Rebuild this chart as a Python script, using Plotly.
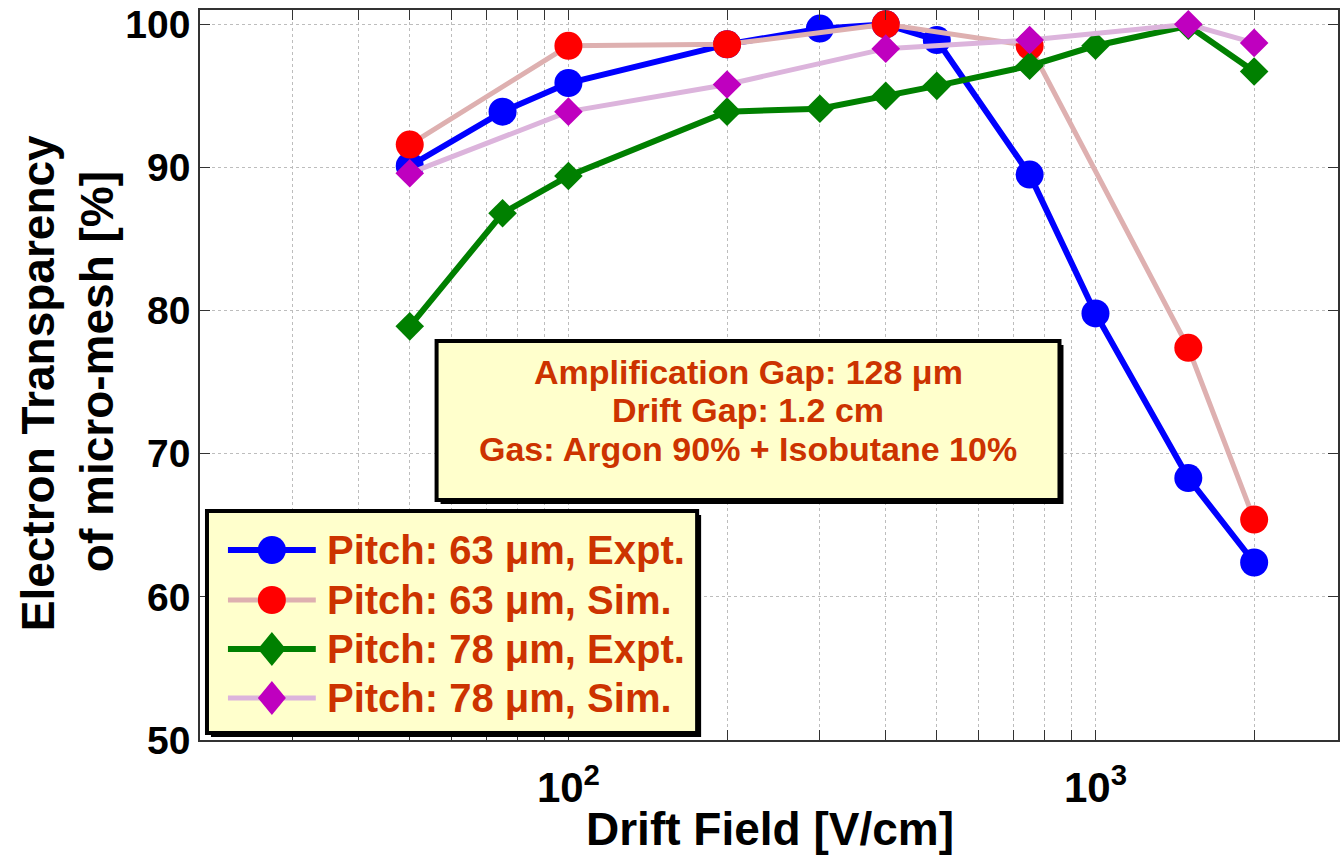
import numpy as np
import plotly.graph_objects as go

# ---- data: electron transparency of the micro-mesh vs drift field ----
field_63_expt = [50, 75, 100, 200, 300, 400, 500, 750, 1000, 1500, 2000]
transp_63_expt = [90.1, 93.9, 95.9, 98.6, 99.7, 100.0, 98.9, 89.5, 79.8, 68.3, 62.4]

field_63_sim = [50, 100, 200, 400, 750, 1500, 2000]
transp_63_sim = [91.6, 98.5, 98.6, 100.0, 98.5, 77.4, 65.4]

field_78_expt = [50, 75, 100, 200, 300, 400, 500, 750, 1000, 1500, 2000]
transp_78_expt = [78.9, 86.8, 89.4, 93.9, 94.1, 95.0, 95.7, 97.1, 98.5, 99.9, 96.7]

field_78_sim = [50, 100, 200, 400, 750, 1500, 2000]
transp_78_sim = [89.6, 93.9, 95.8, 98.3, 98.9, 100.0, 98.7]

series_names = [
    "Pitch: 63 μm, Expt.",
    "Pitch: 63 μm, Sim.",
    "Pitch: 78 μm, Expt.",
    "Pitch: 78 μm, Sim.",
]
info_lines = [
    "Amplification Gap: 128 μm",
    "Drift Gap: 1.2 cm",
    "Gas: Argon 90% + Isobutane 10%",
]
y_ticks = [50, 60, 70, 80, 90, 100]
x_ticks = [20, 30, 40, 50, 60, 70, 80, 90, 100, 200, 300, 400, 500, 600, 700, 800, 900, 1000, 2000]
x_tick_text = {100: "10<sup>2</sup>", 1000: "10<sup>3</sup>"}

# ---- styling ----
W, H = 1340, 864
L, R, T, B = 200, 0, 10, 124
PW, PH = W - L - R, H - T - B
SANS = "Liberation Sans, Arial, sans-serif"
TEXT_RED = "#CC3300"
BOX_FILL = "#FFFFCC"

styles = [
    dict(line=dict(color="rgb(0,0,255)", width=6), marker=dict(symbol="circle", size=28, color="rgb(0,0,255)")),
    dict(line=dict(color="rgb(222,176,176)", width=5), marker=dict(symbol="circle", size=28, color="rgb(255,0,0)")),
    dict(line=dict(color="rgb(0,128,0)", width=6), marker=dict(symbol="diamond", size=22, color="rgb(0,128,0)")),
    dict(line=dict(color="rgb(220,180,220)", width=5), marker=dict(symbol="diamond", size=22, color="rgb(191,0,191)")),
]
series = [
    (field_63_expt, transp_63_expt),
    (field_63_sim, transp_63_sim),
    (field_78_expt, transp_78_expt),
    (field_78_sim, transp_78_sim),
]

fig = go.Figure()
for (xs, ys), name, st in zip(series, series_names, styles):
    fig.add_trace(go.Scatter(
        x=xs, y=ys, mode="lines+markers", name=name,
        line=st["line"], marker=dict(**st["marker"], line=dict(width=0)),
        showlegend=False,
    ))


def px(x):
    return (x - L) / PW


def py(y):
    return (T + PH - y) / PH


shapes = []
annotations = []


def framed_box(x0, y0, x1, y1):
    # drop shadow then the filled frame
    shapes.append(dict(type="rect", xref="paper", yref="paper", layer="above",
                       x0=px(x0 + 4), x1=px(x1 + 4), y0=py(y1 + 4), y1=py(y0 + 4),
                       fillcolor="black", line=dict(width=0)))
    shapes.append(dict(type="rect", xref="paper", yref="paper", layer="above",
                       x0=px(x0), x1=px(x1), y0=py(y1), y1=py(y0),
                       fillcolor=BOX_FILL, line=dict(color="black", width=4)))


# info box
framed_box(437, 341, 1061, 500)
for line_txt, yy in zip(info_lines, [372, 410, 449]):
    annotations.append(dict(xref="paper", yref="paper", x=px(749), y=py(yy),
                            text=line_txt, showarrow=False, xanchor="center", yanchor="middle",
                            font=dict(family=SANS, size=34, color=TEXT_RED, weight="bold")))

# legend box with keys
framed_box(207, 511, 698, 733)
rows = [550, 600, 649, 698]
for name, st, yy in zip(series_names, styles, rows):
    shapes.append(dict(type="line", xref="paper", yref="paper", layer="above",
                       x0=px(228), x1=px(316), y0=py(yy), y1=py(yy),
                       line=dict(color=st["line"]["color"], width=st["line"]["width"])))
    mk = st["marker"]
    if mk["symbol"] == "circle":
        shapes.append(dict(type="circle", xref="paper", yref="paper", layer="above",
                           xsizemode="pixel", ysizemode="pixel",
                           xanchor=px(272), yanchor=py(yy), x0=-14, x1=14, y0=-14, y1=14,
                           fillcolor=mk["color"], line=dict(width=0)))
    else:
        shapes.append(dict(type="path", xref="paper", yref="paper", layer="above",
                           xsizemode="pixel", ysizemode="pixel",
                           xanchor=px(272), yanchor=py(yy),
                           path="M 0 17 L 14 0 L 0 -17 L -14 0 Z",
                           fillcolor=mk["color"], line=dict(width=0)))
    annotations.append(dict(xref="paper", yref="paper", x=px(325), y=py(yy),
                            text=name, showarrow=False, xanchor="left", yanchor="middle",
                            font=dict(family=SANS, size=40, color=TEXT_RED, weight="bold")))

# axis titles
TITLE_FONT = dict(family=SANS, size=46, color="black", weight="bold")
annotations.append(dict(xref="paper", yref="paper", x=px(38), y=py(383), text="Electron Transparency",
                        textangle=-90, showarrow=False, xanchor="center", yanchor="middle",
                        font=TITLE_FONT))
annotations.append(dict(xref="paper", yref="paper", x=px(97), y=py(372), text="of micro-mesh [%]",
                        textangle=-90, showarrow=False, xanchor="center", yanchor="middle",
                        font=TITLE_FONT))
annotations.append(dict(xref="paper", yref="paper", x=px(771), y=py(829), text="Drift Field [V/cm]",
                        showarrow=False, xanchor="center", yanchor="middle",
                        font=TITLE_FONT))

decade_px = 528.0
x_lo = np.log10(20)
x_hi = x_lo + PW / decade_px

axis_common = dict(
    showline=True, linecolor="#333333", linewidth=1.5, mirror="allticks",
    ticks="inside", ticklen=10, tickwidth=1.2, tickcolor="#333333",
    showgrid=True, gridcolor="#BDBDBD", griddash="dot", gridwidth=1,
    zeroline=False, ticklabeloverflow="allow",
)

fig.update_layout(
    width=W, height=H,
    margin=dict(l=L, r=R, t=T, b=B),
    paper_bgcolor="white", plot_bgcolor="white",
    xaxis=dict(type="log", range=[x_lo, x_hi], tickmode="array", tickvals=x_ticks,
               ticktext=[x_tick_text.get(v, "") for v in x_ticks],
               tickfont=dict(family=SANS, size=42, color="black", weight="bold"),
               ticklabelstandoff=10, **axis_common),
    yaxis=dict(range=[50, 101], tickmode="array", tickvals=y_ticks,
               tickfont=dict(family=SANS, size=39, color="black", weight="bold"),
               ticklabelstandoff=0, **axis_common),
    shapes=shapes,
    annotations=annotations,
    showlegend=False,
)

fig.write_html("out.html")
